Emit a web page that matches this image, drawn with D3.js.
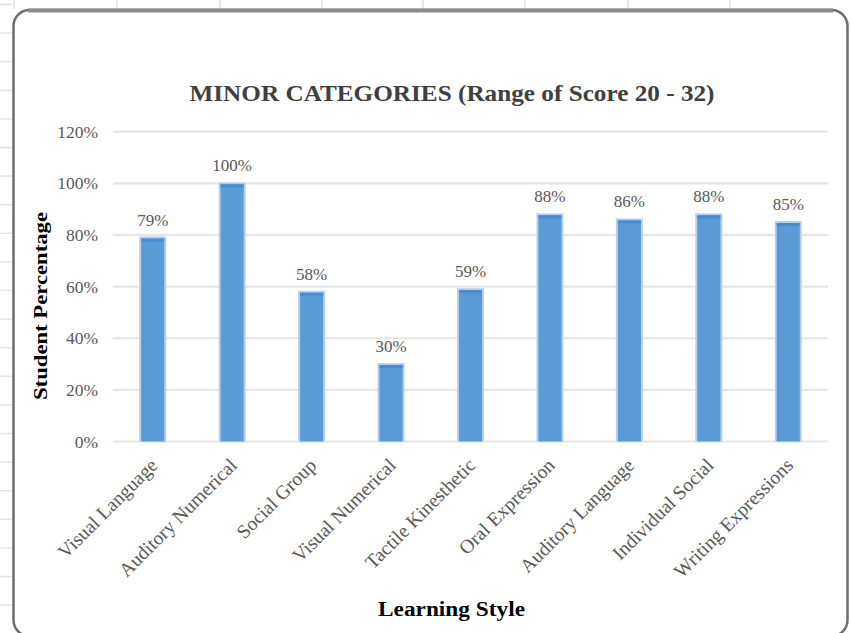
<!DOCTYPE html>
<html>
<head>
<meta charset="utf-8">
<script src="https://cdn.jsdelivr.net/npm/d3@7/dist/d3.min.js"></script>
<style>
  html, body { margin: 0; padding: 0; background: #ffffff; }
  svg { display: block; }
  text { font-family: "Liberation Serif", "Times New Roman", serif; }
</style>
</head>
<body>
<svg id="chart" width="851" height="633"></svg>
<script>
// ---- data ----
const categories = ["Visual Language", "Auditory Numerical", "Social Group", "Visual Numerical",
  "Tactile Kinesthetic", "Oral Expression", "Auditory Language", "Individual Social", "Writing Expressions"];
const values = [0.79, 1.00, 0.58, 0.30, 0.59, 0.88, 0.86, 0.88, 0.85];
const yTicks = [0, 0.2, 0.4, 0.6, 0.8, 1.0, 1.2];
const titleText = "MINOR CATEGORIES (Range of Score 20 - 32)";
const xTitle = "Learning Style";
const yTitle = "Student Percentage";

const svg = d3.select("#chart");

// ---- spreadsheet background (outside the chart object) ----
const bg = svg.append("g");
const rowLines = d3.range(0, 22).map(i => 4.5 + i * 28.6);
bg.selectAll("line.row").data(rowLines).enter().append("line")
  .attr("x1", 0).attr("x2", 12).attr("y1", d => d).attr("y2", d => d)
  .attr("stroke", "#e4e4e4").attr("stroke-width", 1.5);
const colLines = [14, 117, 220, 322, 423, 525, 628, 730];
bg.selectAll("line.col").data(colLines).enter().append("line")
  .attr("x1", d => d).attr("x2", d => d).attr("y1", 0).attr("y2", 9)
  .attr("stroke", "#e0e0e0").attr("stroke-width", 1.5);

// chart object frame
svg.append("rect")
  .attr("x", 13.5).attr("y", 10).attr("width", 834).attr("height", 626)
  .attr("rx", 16).attr("ry", 16)
  .attr("fill", "#ffffff").attr("stroke", "#6e6e6e").attr("stroke-width", 2.5);
svg.append("line").attr("x1", 28).attr("x2", 833).attr("y1", 10.5).attr("y2", 10.5)
  .attr("stroke", "#8a8a8a").attr("stroke-width", 4);

// ---- scales ----
const plot = { left: 113, right: 828, top: 131.7, bottom: 441.5 };
const x = d3.scaleBand().domain(categories).range([plot.left, plot.right])
  .paddingInner(0.71).paddingOuter(0.355);
const y = d3.scaleLinear().domain([0, 1.2]).range([plot.bottom, plot.top]);

// gridlines
svg.append("g").selectAll("line").data(yTicks).enter().append("line")
  .attr("x1", plot.left).attr("x2", plot.right)
  .attr("y1", d => y(d)).attr("y2", d => y(d))
  .attr("stroke", "#e6e6e6").attr("stroke-width", 2.2);

// y axis labels via d3 axis
const yAxis = d3.axisLeft(y).tickValues(yTicks).tickFormat(d3.format(".0%")).tickSize(0).tickPadding(15);
const gy = svg.append("g").attr("transform", `translate(${plot.left},0)`).call(yAxis);
gy.select(".domain").remove();
gy.selectAll("text").attr("font-family", "Liberation Serif, serif").attr("font-size", 17.5)
  .attr("fill", "#595959");

// bars
const bars = svg.append("g");
bars.selectAll("rect.halo").data(values).enter().append("rect")
  .attr("x", (d, i) => x(categories[i]) - 2)
  .attr("y", d => y(d) - 1)
  .attr("width", x.bandwidth() + 4)
  .attr("height", d => y(0) - y(d) + 1)
  .attr("fill", "#b3d0ef");
bars.selectAll("rect.bar").data(values).enter().append("rect")
  .attr("x", (d, i) => x(categories[i]))
  .attr("y", d => y(d) + 1)
  .attr("width", x.bandwidth())
  .attr("height", d => y(0) - y(d) - 1)
  .attr("fill", "#5b9bd5");
bars.selectAll("rect.top").data(values).enter().append("rect")
  .attr("x", (d, i) => x(categories[i]))
  .attr("y", d => y(d) + 1)
  .attr("width", x.bandwidth())
  .attr("height", 3)
  .attr("fill", "#4a8ad0");

// data labels
svg.append("g").selectAll("text").data(values).enter().append("text")
  .attr("x", (d, i) => x(categories[i]) + x.bandwidth() / 2)
  .attr("y", d => y(d) - 12)
  .attr("text-anchor", "middle")
  .attr("font-size", 17).attr("fill", "#595959")
  .text(d => d3.format(".0%")(d));

// x axis labels (rotated)
const xAxis = d3.axisBottom(x).tickSize(0).tickPadding(0);
const gx = svg.append("g").attr("transform", `translate(0,${plot.bottom})`).call(xAxis);
gx.select(".domain").remove();
gx.selectAll("text")
  .attr("font-family", "Liberation Serif, serif").attr("font-size", 19.5).attr("fill", "#595959")
  .attr("text-anchor", "end")
  .attr("dy", 0).attr("y", 0)
  .attr("transform", "translate(6,25) rotate(-45)");

// titles
svg.append("text").attr("x", 452).attr("y", 101).attr("text-anchor", "middle")
  .attr("font-size", 23).attr("font-weight", "bold").attr("fill", "#404040")
  .attr("textLength", 525).attr("lengthAdjust", "spacingAndGlyphs")
  .text(titleText);
svg.append("text").attr("x", 451.5).attr("y", 616).attr("text-anchor", "middle")
  .attr("font-size", 20).attr("font-weight", "bold").attr("fill", "#000000")
  .attr("textLength", 147).attr("lengthAdjust", "spacingAndGlyphs")
  .text(xTitle);
svg.append("text").attr("transform", "translate(47,306) rotate(-90)").attr("text-anchor", "middle")
  .attr("font-size", 19).attr("font-weight", "bold").attr("fill", "#000000")
  .attr("textLength", 188).attr("lengthAdjust", "spacingAndGlyphs")
  .text(yTitle);
</script>
</body>
</html>
